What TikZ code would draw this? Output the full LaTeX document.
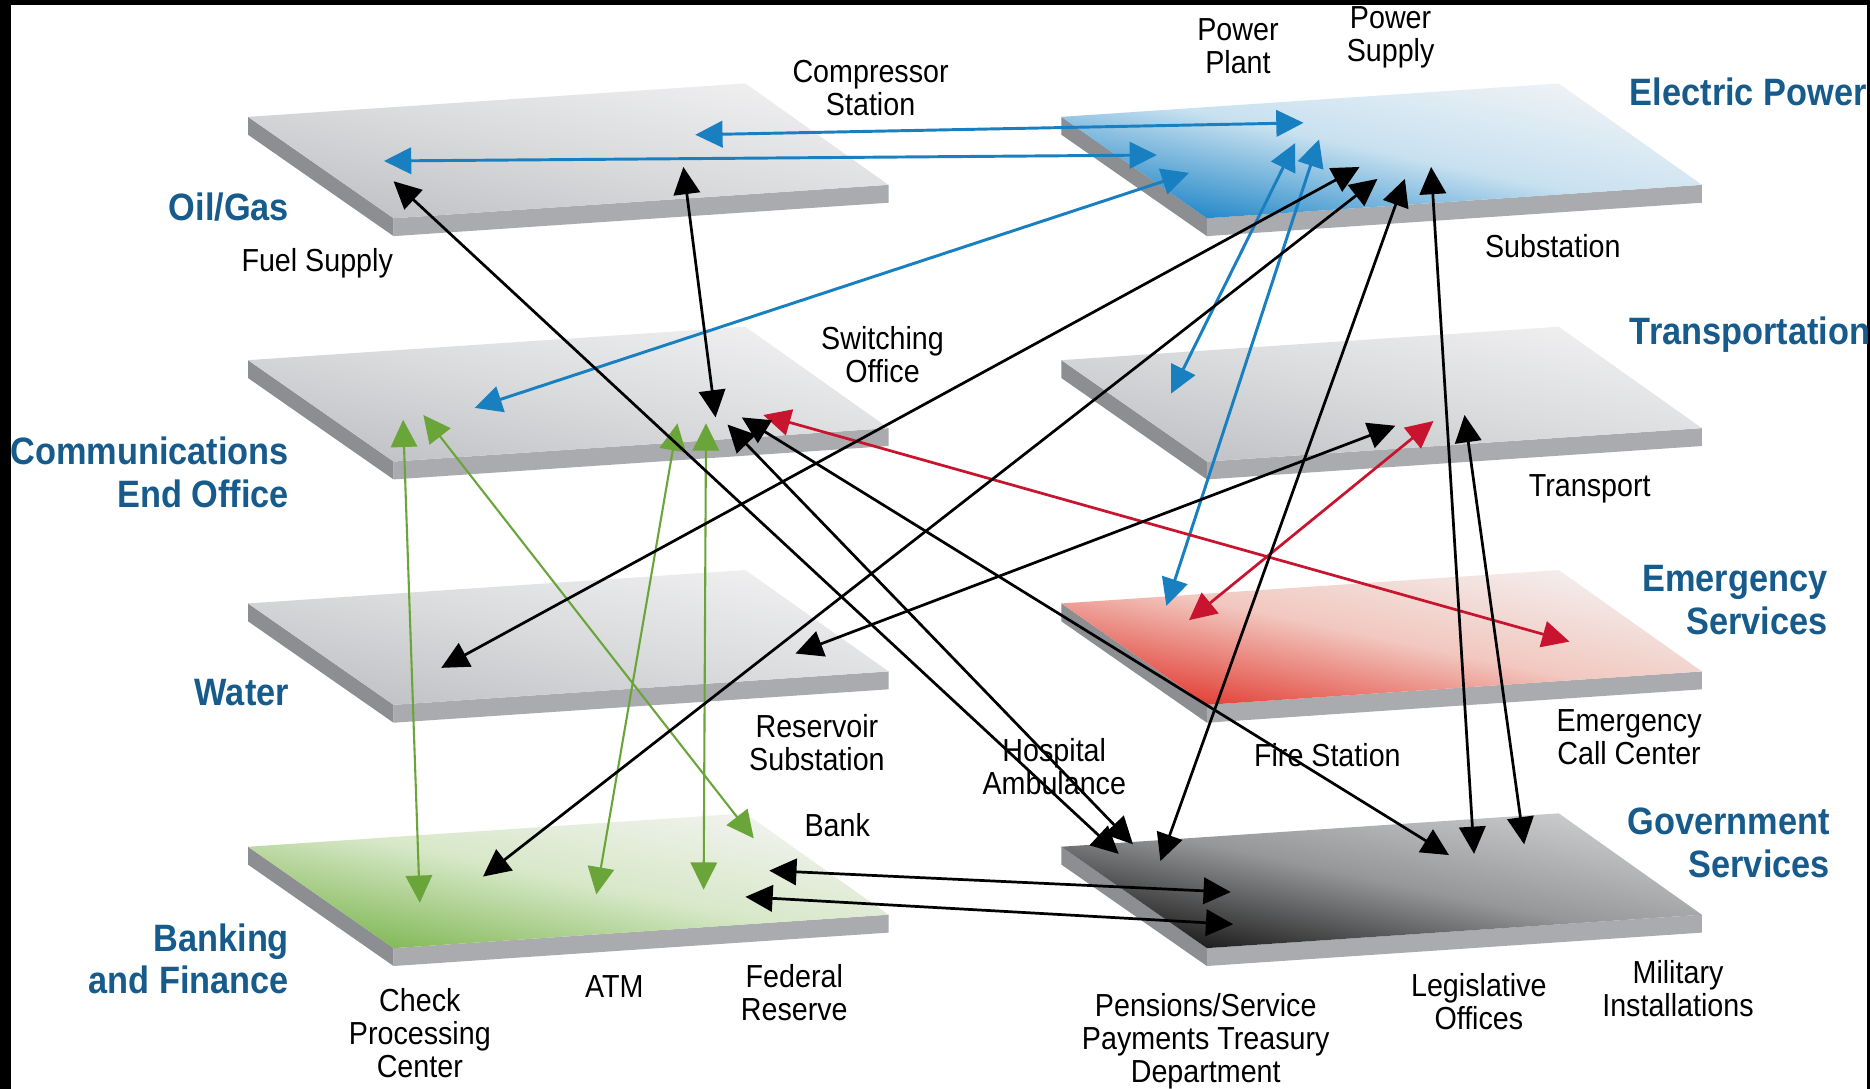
\documentclass[tikz,border=0pt]{standalone}
\usepackage{fontspec}
\setmainfont{Liberation Sans}[FakeStretch=0.9]
\usetikzlibrary{arrows.meta}

\definecolor{layerblue}{RGB}{22,91,140}
\definecolor{linkblue}{RGB}{24,127,192}
\definecolor{linkred}{RGB}{200,20,46}
\definecolor{linkgreen}{RGB}{106,165,57}
\definecolor{sidegray}{RGB}{140,142,146}
\definecolor{frontgray}{RGB}{170,171,174}
% top face colours: front / middle / back
\definecolor{grayF}{RGB}{192,193,196}
\definecolor{grayM}{RGB}{218,219,221}
\definecolor{grayB}{RGB}{240,240,241}
\definecolor{blueF}{RGB}{25,130,198}
\definecolor{blueM}{RGB}{200,225,240}
\definecolor{blueB}{RGB}{240,243,246}
\definecolor{redF}{RGB}{225,55,45}
\definecolor{redM}{RGB}{242,200,192}
\definecolor{redB}{RGB}{243,240,239}
\definecolor{greenF}{RGB}{125,182,80}
\definecolor{greenM}{RGB}{215,232,200}
\definecolor{greenB}{RGB}{243,243,241}
\definecolor{darkF}{RGB}{20,20,20}
\definecolor{darkM}{RGB}{150,151,153}
\definecolor{darkB}{RGB}{205,206,208}

\tikzset{
  layer/.style={font=\fontsize{9.1}{10.2}\selectfont\bfseries, text=layerblue, inner sep=0pt},
  site/.style={font=\fontsize{7.6}{7.9}\selectfont, align=center, inner sep=0pt},
  link/.style={{Triangle[length=6.5pt,width=6.3pt]}-{Triangle[length=6.5pt,width=6.3pt]}, line width=0.65pt},
  bluelink/.style={link, draw=linkblue, fill=linkblue, line width=0.7pt},
  redlink/.style={link, draw=linkred, fill=linkred},
  greenlink/.style={link, draw=linkgreen, fill=linkgreen, line width=0.5pt}
}

\begin{document}
\begin{tikzpicture}
    \useasboundingbox (0,0) rectangle (15.68,-9.13);
    \fill[black] (0,0) rectangle (15.68,-9.13);
    \fill[white] (0.092,-0.042) rectangle (15.655,-9.13);

    % the eight plates
    \foreach \x/\y/\cf/\cm/\cb in {2.08/-0.98/grayF/grayM/grayB, 2.08/-3.02/grayF/grayM/grayB,
        2.08/-5.06/grayF/grayM/grayB, 2.08/-7.10/greenF/greenM/greenB,
        8.90/-0.98/blueF/blueM/blueB, 8.90/-3.02/grayF/grayM/grayB,
        8.90/-5.06/redF/redM/redB, 8.90/-7.10/darkF/darkM/darkB}
    {
    \begin{scope}[shift={(\x,\y)}]
        \fill[sidegray] (0,0) -- (1.22,-0.85) -- (1.22,-1.00) -- (0,-0.15) -- cycle;
        \fill[frontgray] (1.22,-0.85) -- (5.37,-0.57) -- (5.37,-0.72) -- (1.22,-1.00) -- cycle;
        \shade[bottom color=\cf, top color=\cb, middle color=\cm, shading angle=-12]
            (0,0) -- (4.17,0.28) -- (5.37,-0.57) -- (1.22,-0.85) -- cycle;
    \end{scope}
    }

    % layer names
    \node[layer, anchor=east] (oilgas) at (2.43,-1.74) {Oil/Gas};
    \node[layer, anchor=east, align=right] (comms) at (2.43,-3.96) {Communications\\End Office};
    \node[layer, anchor=east] (water) at (2.43,-5.81) {Water};
    \node[layer, anchor=east, align=right] (banking) at (2.43,-8.04) {Banking\\and Finance};
    \node[layer, anchor=west] (electric) at (13.66,-0.77) {Electric Power};
    \node[layer, anchor=west] (transportation) at (13.66,-2.81) {Transportation};
    \node[layer, anchor=east, align=right] (emergency) at (15.33,-5.03) {Emergency\\Services};
    \node[layer, anchor=east, align=right] (government) at (15.35,-7.07) {Government\\Services};

    % sites
    \node[site] (compressor) at (7.30,-0.74) {Compressor\\Station};
    \node[site] (fuel) at (2.66,-2.21) {Fuel Supply};
    \node[site] (plant) at (10.38,-0.39) {Power\\Plant};
    \node[site] (supply) at (11.66,-0.31) {Power\\Supply};
    \node[site] (substation) at (13.02,-2.06) {Substation};
    \node[site] (switching) at (7.40,-2.97) {Switching\\Office};
    \node[site] (transport) at (13.33,-4.10) {Transport};
    \node[site] (reservoir) at (6.85,-6.23) {Reservoir\\Substation};
    \node[site] (callcenter) at (13.66,-6.18) {Emergency\\Call Center};
    \node[site] (hospital) at (8.84,-6.43) {Hospital\\Ambulance};
    \node[site] (fire) at (11.13,-6.33) {Fire Station};
    \node[site] (bank) at (7.02,-6.92) {Bank};
    \node[site] (check) at (3.52,-8.66) {Check\\Processing\\Center};
    \node[site] (atm) at (5.15,-8.27) {ATM};
    \node[site] (federal) at (6.66,-8.32) {Federal\\Reserve};
    \node[site] (pensions) at (10.11,-8.73) {Pensions/Service\\Payments Treasury\\Department};
    \node[site] (legislative) at (12.40,-8.40) {Legislative\\Offices};
    \node[site] (military) at (14.07,-8.29) {Military\\Installations};

    % arrow ends on the plates
    \coordinate (oil1) at (5.83,-1.13);
    \coordinate (oil2) at (3.22,-1.35);
    \coordinate (oil3) at (3.30,-1.52);
    \coordinate (oil4) at (5.73,-1.40);
    \coordinate (elec1) at (10.93,-1.03);
    \coordinate (elec2) at (9.70,-1.30);
    \coordinate (elec3) at (9.97,-1.45);
    \coordinate (elec4) at (10.86,-1.20);
    \coordinate (elec5) at (11.06,-1.17);
    \coordinate (elec6) at (11.40,-1.40);
    \coordinate (elec7) at (11.55,-1.50);
    \coordinate (elec8) at (11.78,-1.50);
    \coordinate (elec9) at (12.00,-1.40);
    \coordinate (comm1) at (3.98,-3.42);
    \coordinate (comm2) at (6.40,-3.48);
    \coordinate (comm3) at (3.38,-3.52);
    \coordinate (comm4) at (3.55,-3.48);
    \coordinate (comm5) at (5.68,-3.55);
    \coordinate (comm6) at (5.92,-3.55);
    \coordinate (comm7) at (6.00,-3.50);
    \coordinate (comm8) at (6.10,-3.56);
    \coordinate (comm9) at (6.22,-3.50);
    \coordinate (trans1) at (9.82,-3.30);
    \coordinate (trans2) at (12.02,-3.53);
    \coordinate (trans3) at (11.70,-3.57);
    \coordinate (trans4) at (12.28,-3.48);
    \coordinate (water1) at (3.70,-5.60);
    \coordinate (water2) at (6.67,-5.48);
    \coordinate (emerg1) at (9.78,-5.08);
    \coordinate (emerg2) at (13.16,-5.38);
    \coordinate (emerg3) at (9.97,-5.20);
    \coordinate (bank1) at (3.52,-7.57);
    \coordinate (bank2) at (6.32,-7.03);
    \coordinate (bank3) at (5.00,-7.50);
    \coordinate (bank4) at (5.90,-7.46);
    \coordinate (bank5) at (4.05,-7.35);
    \coordinate (bank6) at (6.45,-7.30);
    \coordinate (bank7) at (6.25,-7.52);
    \coordinate (gov1) at (9.38,-7.16);
    \coordinate (gov2) at (9.50,-7.08);
    \coordinate (gov3) at (12.15,-7.17);
    \coordinate (gov4) at (9.73,-7.22);
    \coordinate (gov5) at (12.36,-7.16);
    \coordinate (gov6) at (12.78,-7.08);
    \coordinate (gov7) at (10.32,-7.48);
    \coordinate (gov8) at (10.34,-7.75);

    % links
    \draw[bluelink] (oil1) -- (elec1);
    \draw[bluelink] (oil2) -- (elec2);
    \draw[bluelink] (elec3) -- (comm1);
    \draw[bluelink] (elec4) -- (trans1);
    \draw[bluelink] (elec5) -- (emerg1);
    \draw[redlink] (comm2) -- (emerg2);
    \draw[redlink] (emerg3) -- (trans2);
    \draw[greenlink] (comm3) -- (bank1);
    \draw[greenlink] (comm4) -- (bank2);
    \draw[greenlink] (comm5) -- (bank3);
    \draw[greenlink] (comm6) -- (bank4);
    \draw[link] (oil3) -- (gov1);
    \draw[link] (oil4) -- (comm7);
    \draw[link] (comm8) -- (gov2);
    \draw[link] (comm9) -- (gov3);
    \draw[link] (elec6) -- (water1);
    \draw[link] (elec7) -- (bank5);
    \draw[link] (elec8) -- (gov4);
    \draw[link] (elec9) -- (gov5);
    \draw[link] (trans3) -- (water2);
    \draw[link] (trans4) -- (gov6);
    \draw[link] (bank6) -- (gov7);
    \draw[link] (bank7) -- (gov8);
\end{tikzpicture}
\end{document}
